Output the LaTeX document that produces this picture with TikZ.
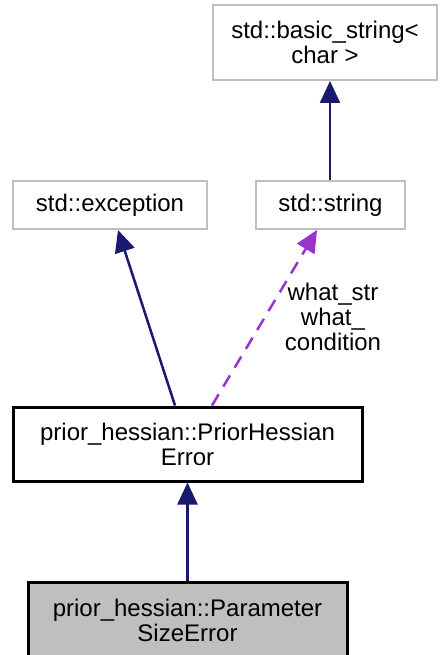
\documentclass[tikz,border=0pt]{standalone}
\usepackage{fontspec}
\setmainfont{Liberation Sans}
\usetikzlibrary{arrows.meta}
\definecolor{edgeblue}{HTML}{191970}
\definecolor{edgepurple}{HTML}{9A32CD}
\definecolor{boxgray}{HTML}{BFBFBF}
\begin{document}
\begin{tikzpicture}[x=1pt,y=-1pt,
  box/.style={draw=boxgray,line width=2pt,fill=white,inner sep=0pt,align=center,
    font=\fontsize{24}{25}\selectfont},
  mainbox/.style={box,draw=black,line width=3pt},
  curbox/.style={mainbox,fill=boxgray},
  arr/.style={draw=edgeblue,line width=2.5pt,-{Triangle[length=22pt,width=20pt]}},
  darr/.style={draw=edgepurple,line width=2.5pt,dash pattern=on 13pt off 9pt,-{Triangle[length=22pt,width=20pt]}},
  lbl/.style={align=center,inner sep=0pt,font=\fontsize{24}{25}\selectfont}]
\useasboundingbox (0,0) rectangle (439,655);
\node[box,minimum width=224pt,minimum height=75pt] (basic) at (325,42.5) {std::basic\_string<\\char >};
\node[box,minimum width=194pt,minimum height=48pt] (exc) at (110,205) {std::exception};
\node[box,minimum width=149pt,minimum height=48pt] (str) at (330.5,205) {std::string};
\node[mainbox,minimum width=349pt,minimum height=74pt] (ph) at (187.5,444) {prior\_hessian::PriorHessian\\Error};
\node[curbox,minimum width=319pt,minimum height=76pt] (ps) at (187.5,620) {prior\_hessian::Parameter\\SizeError};
\draw[arr] ([xshift=-0.5pt]str.north) -- ([xshift=5pt]basic.south);
\draw[arr] ([xshift=-12.5pt]ph.north) -- ([xshift=8pt]exc.south);
\draw[darr] ([xshift=24.5pt]ph.north) -- ([xshift=-13.5pt]str.south);
\draw[arr] (ps.north) -- (ph.south);
\node[lbl] (l) at (333,317) {what\_str\\what\_\\condition};
\end{tikzpicture}
\end{document}
